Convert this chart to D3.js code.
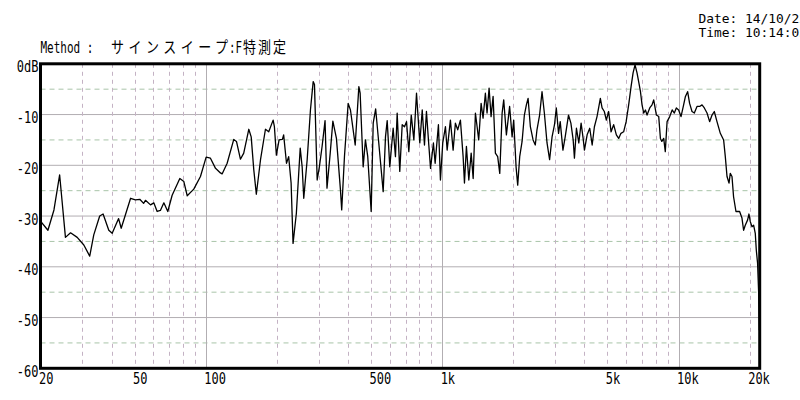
<!DOCTYPE html>
<html><head><meta charset="utf-8">
<script src="https://cdn.jsdelivr.net/npm/d3@7"></script>
<style>body{margin:0;background:#fff;overflow:hidden}svg{display:block}</style>
</head><body><svg id="c" width="800" height="400"></svg>
<script>
// ---- data ----
const freqHz = [20.0,21.5,22.8,24.1,25.5,26.8,28.6,30.5,32.3,33.6,35.6,36.8,38.9,40.2,42.8,43.9,48.1,50.4,52.6,54.6,55.6,58.4,60.3,62.3,64.3,66.5,69.1,72.1,77.7,80.8,83.5,89.0,95.0,100.4,104.7,110,115.4,117.3,123.2,131.4,134.9,140.2,144.8,152.1,155.7,159.7,163.7,170.5,178.9,184.7,192.8,195.2,199.0,204.3,211.0,213.6,219.6,224.3,229.7,234.1,241.7,251.0,255.8,259.8,268.6,277.3,284.8,288.4,296.1,302.5,310.6,319.7,325.8,336.2,345,357.2,371.5,376.0,386.2,400.4,409.5,415.8,428.8,444.4,450,463.4,473.8,484.6,501,511,523.4,539.5,563.2,576,585.6,600.6,620.6,634.7,645.4,662,
677.7,693.2,706.9,723.0,740.3,759.3,779.2,789.2,804.5,823.8,842,858.4,878.3,893.3,918.7,934.3,964.6,983.6,1006,1033,1050,1084,1113,1138,1164,1195,1227,1243,1267,1297,1327,1353,1383,1406,1428,1462,1490,1524,1549,1580,1611,1643,1680,1718,1753,1794,1822,1870,1930,1977,2008,2055,2088,2129,2179,2228,2272,2310,2362,2425,2478,2519,2584,2646,2707,2778,2849,2918,2988,3041,3108,3159,3244,3316,3424,3505,3584,3628,3700,3786,3872,3949,4000,4106,4212,4312,4407,4521,4670,4749,4854,4951,5063,5184,5316,5458,5583,5707,5859,6004,6153,6299,6424,6547,6675,6782,6903,7010,7127,7243,7360,7555,7726,7852,8062,8246,8383,8499,8656,8790,8946,9177,9400,9600,9788,10010,10247,10510,10685,10928,11141,11405,11664,11974,12284,12573,12858,13200,13540,13860,14170,14545,15025,15516,15773,16038,16353,16556,16835,17094,17498,18132,18553,18850,19157,19589,19861,20117,20460,20780,21120,21330,21600,21820,21960];
const levelDb = [-31.0,-32.8,-28.8,-21.9,-34.2,-33.3,-34.2,-35.7,-37.9,-33.7,-30.0,-29.6,-32.8,-33.4,-30.5,-32.4,-26.5,-26.8,-26.7,-27.5,-26.9,-27.8,-27.4,-29.1,-28.9,-27.4,-29.1,-25.9,-22.6,-23.2,-26.0,-24.7,-22.2,-18.4,-18.6,-20.6,-21.5,-21.7,-19.6,-14.9,-15.3,-18.8,-17.6,-12.9,-14.4,-20.9,-25.7,-18.9,-12.9,-13.4,-11.1,-12.4,-18.0,-15.0,-14.9,-14.0,-19.6,-18.3,-23.5,-35.4,-29.5,-16.6,-20.3,-26.5,-18.9,-9.1,-3.5,-4.1,-22.9,-20.3,-16.3,-11.2,-24.5,-17.6,-11.3,-14.7,-24.9,-28.8,-18.3,-7.8,-9.1,-11.4,-16.0,-4.5,-5.8,-20.3,-15.0,-18.3,-29.1,-11.7,-8.9,-15.6,-25.2,-14.4,-11.2,-20.3,-12.7,-18.3,-9.7,-21.2,
-12.0,-12.4,-11.4,-17.3,-10.1,-15.0,-5.8,-9.7,-15.6,-9.1,-16.0,-9.4,-16.0,-20.6,-15.6,-19.6,-12.0,-22.9,-15.6,-12.4,-17.0,-11.1,-17.0,-11.7,-13.0,-11.1,-18.3,-23.5,-16.3,-22.9,-17.6,-22.6,-9.7,-12.4,-15.0,-7.8,-10.7,-5.8,-9.7,-4.8,-10.4,-6.4,-17.6,-18.3,-21.6,-9.7,-7.1,-14.0,-8.4,-14.4,-11.1,-20.3,-23.9,-18.3,-15.3,-10.1,-8.1,-6.8,-12.4,-15.0,-16.0,-13.0,-10.1,-5.5,-9.7,-15.6,-18.9,-14.4,-12.0,-8.7,-13.7,-11.4,-17.0,-14.4,-10.1,-11.7,-15.0,-18.6,-12.7,-15.6,-11.7,-14.7,-17.0,-14.0,-12.7,-16.0,-12.4,-10.4,-6.8,-8.7,-9.4,-11.1,-9.4,-13.4,-12.0,-14.0,-14.7,-13.7,-13.4,-11.4,-8.1,-4.5,-1.8,-0.2,-1.8,-3.5,-5.5,-8.1,-9.7,-9.1,-10.1,-8.7,-8.1,-7.1,-10.1,-10.4,-14.7,-15.3,-14.7,-17.3,-11.4,-10.4,-9.1,-9.7,-8.7,-9.1,-10.4,-8.1,-6.5,-5.5,-7.8,-9.4,-9.7,-8.4,-8.4,-8.1,-8.7,-9.7,-11.4,-10.1,-9.4,-11.4,-13.7,-15.0,-18.3,-22.2,-23.5,-21.6,-22.2,-26.2,-29.1,-29.1,-30.4,-32.8,-31.8,-30.8,-29.6,-31.1,-32.1,-31.8,-33.4,-36.7,-39.3,-44.9,-52.5];

const xDomain = [20, 22050];
const yDomain = [-60, 0];
const yTickValues = [0,-10,-20,-30,-40,-50,-60];
const yTickLabels = ["0dB","-10","-20","-30","-40","-50","-60"];
const xTickValues = [20,50,100,500,1000,5000,10000,20000];
const xTickLabels = ["20","50","100","500","1k","5k","10k","20k"];
const majorFreqs = [100,1000,10000];
const minorFreqs = [30,40,50,60,70,80,90,200,300,400,500,600,700,800,900,2000,3000,4000,5000,6000,7000,8000,9000,20000];
const majorDb = [-10,-20,-30,-40,-50];
const halfDb = [-5,-15,-25,-35,-45,-55];
const methodLabel = "Method :";
const methodName = "サインスイープ";
const methodSep = ":F";
const methodKanji = "特測定";
const dateText = "Date: 14/10/22";
const timeText = "Time: 10:14:05";

// ---- drawing ----
const svg = d3.select("#c");
const L = 40.5, R = 759.7, T = 63.8, B = 368.3;
const x = d3.scaleLog().domain(xDomain).range([L, R]);
const y = d3.scaleLinear().domain(yDomain).range([B, T]);
const mono = "'DejaVu Sans Mono', 'Liberation Mono', monospace";

const grid = svg.append("g");
grid.selectAll(".hm").data(majorDb).join("line")
  .attr("x1", L).attr("x2", R).attr("y1", d => y(d)).attr("y2", d => y(d))
  .attr("stroke", "#b2aeb2").attr("stroke-width", 1);
grid.selectAll(".hh").data(halfDb).join("line")
  .attr("x1", L).attr("x2", R).attr("y1", d => y(d)).attr("y2", d => y(d))
  .attr("stroke", "#a9c4a9").attr("stroke-width", 1).attr("stroke-dasharray", "5,4");
grid.selectAll(".vm").data(minorFreqs).join("line")
  .attr("x1", d => Math.round(x(d)) + 0.5).attr("x2", d => Math.round(x(d)) + 0.5)
  .attr("y1", T).attr("y2", B)
  .attr("stroke", "#c4b2c4").attr("stroke-width", 1).attr("stroke-dasharray", "4,4");
grid.selectAll(".vM").data(majorFreqs).join("line")
  .attr("x1", d => Math.round(x(d)) + 0.5).attr("x2", d => Math.round(x(d)) + 0.5)
  .attr("y1", T).attr("y2", B)
  .attr("stroke", "#b2aeb2").attr("stroke-width", 1);

const pts = freqHz.map((f, i) => [f, levelDb[i]]);
svg.append("path").datum(pts)
  .attr("fill", "none").attr("stroke", "#000").attr("stroke-width", 1.3)
  .attr("stroke-linejoin", "round")
  .attr("d", d3.line().x(d => x(d[0])).y(d => y(d[1])));

svg.append("rect").attr("x", L).attr("y", T).attr("width", R - L).attr("height", B - T)
  .attr("fill", "none").attr("stroke", "#000").attr("stroke-width", 3);

function tall(px, py, str, anchor, size, sy) {
  return svg.append("text")
    .attr("transform", `translate(${px},${py}) scale(1,${sy})`)
    .attr("dy", "0.36em")
    .attr("text-anchor", anchor)
    .attr("font-family", mono).attr("font-size", size).attr("fill", "#000")
    .text(str);
}
yTickValues.forEach((v, i) => tall(38.5, y(v) + 3, yTickLabels[i], "end", 12, 1.3));
xTickValues.forEach((v, i) => tall(x(v) - 1.5, 378.5, xTickLabels[i], "start", 12, 1.3));

const head = svg.append("text")
  .attr("transform", "translate(0,47.5) scale(1,1.2)")
  .attr("dy", "0.36em")
  .attr("font-family", mono).attr("font-size", 13).attr("fill", "#000");
head.append("tspan").attr("x", 40.5).attr("textLength", 53).attr("lengthAdjust", "spacingAndGlyphs").text(methodLabel);
head.append("tspan").attr("x", 111).attr("font-family", "'Noto Sans CJK JP', " + mono)
  .attr("textLength", 117).attr("lengthAdjust", "spacing").text(methodName);
head.append("tspan").attr("x", 229).attr("textLength", 13).attr("lengthAdjust", "spacingAndGlyphs").text(methodSep);
head.append("tspan").attr("x", 243).attr("font-family", "'Noto Sans CJK JP', " + mono)
  .attr("textLength", 43).attr("lengthAdjust", "spacing").text(methodKanji);

// date / time stamp (clipped at the right edge, as in the reference)
tall(698.5, 17.8, dateText, "start", 12.5, 1.05).attr("textLength", 7.75 * dateText.length).attr("lengthAdjust", "spacingAndGlyphs");
tall(698.5, 32.3, timeText, "start", 12.5, 1.05).attr("textLength", 7.75 * timeText.length).attr("lengthAdjust", "spacingAndGlyphs");
</script></body></html>
